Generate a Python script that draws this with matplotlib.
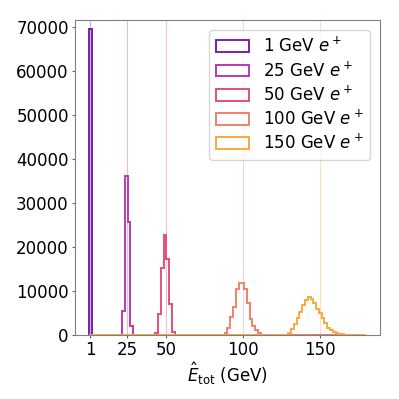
#!/usr/bin/env python3
"""
Reconstructed total energy histograms for positron beams of different energies.
"""

import numpy as np
import matplotlib.pyplot as plt

# ============================================================================
# Config
# ============================================================================

OUTPUT_FILE = "out.png"
FIG_SIZE = (3.99, 3.99)
DPI = 100
FONT_SIZE = 12

# binning: 100 bins from 0 to 180 GeV
BIN_EDGES = np.linspace(0, 180, 101)

# beam energies (GeV) and legend labels
ENERGIES = [1, 25, 50, 100, 150]
LABELS = [r"1 GeV $e^+$", r"25 GeV $e^+$", r"50 GeV $e^+$",
          r"100 GeV $e^+$", r"150 GeV $e^+$"]

# counts per bin, with the index of the first non-empty bin
START_1 = 0
COUNTS_1 = [69700]

START_25 = 12
COUNTS_25 = [5500, 36300, 25800, 2100]

START_50 = 24
COUNTS_50 = [600, 4900, 15200, 22750, 17400, 7000, 750, 100]

START_100 = 48
COUNTS_100 = [150, 600, 1700, 4200, 6500, 10400, 11800, 11800, 10400, 7400,
              3600, 2000, 1100, 400, 100]

START_150 = 71
COUNTS_150 = [100, 600, 1300, 2650, 3800, 5300, 6800, 8100, 8600, 8250, 7350,
              6050, 5100, 3950, 2800, 1650, 1150, 750, 500, 350, 200, 100]

X_TICKS = [1, 25, 50, 100, 150]
Y_TICKS = [0, 10000, 20000, 30000, 40000, 50000, 60000, 70000]

# line colours (purple -> orange)
COLORS = ["#7a1fa6", "#b53ab6", "#e0507c", "#f3806a", "#fda83e"]


def full_counts(start, counts):
    """Place the non-empty bins into a full-length array."""
    arr = np.zeros(len(BIN_EDGES) - 1)
    arr[start:start + len(counts)] = counts
    return arr


def main():
    plt.rcParams["font.size"] = FONT_SIZE

    series = [
        full_counts(START_1, COUNTS_1),
        full_counts(START_25, COUNTS_25),
        full_counts(START_50, COUNTS_50),
        full_counts(START_100, COUNTS_100),
        full_counts(START_150, COUNTS_150),
    ]
    centers = 0.5 * (BIN_EDGES[:-1] + BIN_EDGES[1:])

    fig = plt.figure(figsize=FIG_SIZE, dpi=DPI)
    ax = fig.add_axes([0.188, 0.16, 0.764, 0.79])

    for energy, label, color, counts in zip(ENERGIES, LABELS, COLORS, series):
        ax.hist(centers, bins=BIN_EDGES, weights=counts, histtype="step",
                color=color, linewidth=1.4, label=label)
        ax.axvline(energy, color=color, linewidth=0.8, alpha=0.35, zorder=0)

    ax.set_xlim(-9, 189)
    ax.set_ylim(0, 71700)
    ax.set_xticks(X_TICKS)
    ax.set_yticks(Y_TICKS)
    ax.set_xlabel(r"$\hat{E}_{\rm tot}$ (GeV)", labelpad=1)

    for spine in ax.spines.values():
        spine.set_color("0.5")
    ax.tick_params(colors="0.4", labelcolor="black", length=2.5, pad=2)

    ax.legend(loc="upper right", fontsize=FONT_SIZE, framealpha=0.8,
              labelspacing=0.3, borderaxespad=0.6)

    plt.savefig(OUTPUT_FILE, dpi=DPI)
    plt.close()


if __name__ == "__main__":
    main()
